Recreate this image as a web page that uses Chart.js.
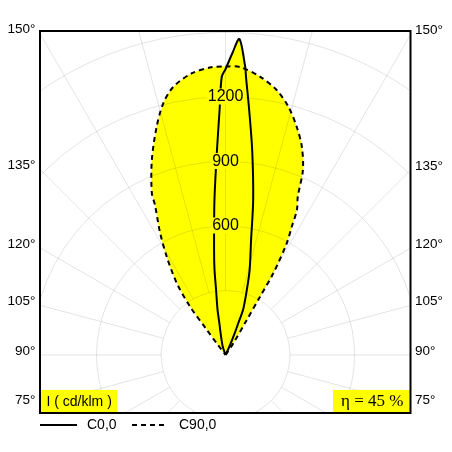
<!DOCTYPE html>
<html>
<head>
<meta charset="utf-8">
<script src="https://cdn.jsdelivr.net/npm/chart.js@4"></script>
<style>
  html, body { margin: 0; padding: 0; background: #fff; }
  #wrap { width: 452px; height: 452px; position: relative; }
</style>
</head>
<body>
<div id="wrap"><canvas id="chart"></canvas></div>
<script>
// Polar intensity data: gamma in degrees from nadir (0 = down, 180 = up), I in cd/klm
// right half = C0 / C90, left half = C180 / C270
const c0Gamma   = [150, 155.4, 157, 158.2, 158.8, 161.9, 164.2, 167.5, 169.9, 172.6, 174.5, 175.8, 176.1, 177.5, 178.7, 180];
const c0Values  = [0, 42, 101, 160, 225, 318, 411, 548, 732, 961, 1145, 1297, 1343, 1471, 1405, 1330];
const c180Gamma  = [155, 161.4, 167.2, 169, 169.9, 171.7, 172.6, 173.75, 175.9, 177.6, 178.6, 179.2, 180];
const c180Values = [0, 41, 105, 152, 213, 306, 399, 491, 723, 954, 1140, 1293, 1330];

const c90Gamma   = [144, 146.3, 148.8, 149.4, 149.7, 151.3, 152.7, 153.8, 155.5, 157.3, 159.9, 162.7, 165.8, 169.1, 172.9, 177.1, 180];
const c90Values  = [0, 65, 190, 315, 440, 592, 671, 751, 810, 932, 1032, 1112, 1191, 1255, 1304, 1341, 1342];
const c270Gamma  = [141, 142.5, 143.3, 143.7, 145.8, 149.1, 151.8, 154.8, 155.5, 159.3, 163.2, 166.1, 169, 173.2, 177.2, 180];
const c270Values = [0, 60, 150, 279, 403, 533, 644, 771, 827, 970, 1109, 1206, 1271, 1320, 1340, 1342];

const seriesNames = ['C0,0', 'C90,0'];
const ringValues = [300, 600, 900, 1200, 1500];
const ringLabels = [600, 900, 1200];
const spokeStep = 15;
const sideAngles = [150, 135, 120, 105, 90, 75];
const unitLabel = 'I ( cd/klm )';
const etaLabel = 'η = 45 %';

// visible window of the diagram, in cd/klm
const xMin = -863, xMax = 860, yMin = -270, yMax = 1507;

const rad = d => d * Math.PI / 180;

// right half going up, then left half coming back down -> closed shape
function polarShape(rg, rv, lg, lv) {
  const pts = [];
  rg.forEach((g, i) => pts.push({ x: rv[i] * Math.sin(rad(g)), y: -rv[i] * Math.cos(rad(g)) }));
  for (let i = lg.length - 2; i >= 0; i--) {
    pts.push({ x: -lv[i] * Math.sin(rad(lg[i])), y: -lv[i] * Math.cos(rad(lg[i])) });
  }
  return pts;
}

const SANS = '"Liberation Sans", Arial, sans-serif';
const YELLOW = '#ffff00';

const polarGrid = {
  id: 'polarGrid',
  beforeDatasetsDraw(chart) {
    const { ctx, chartArea: a, scales: { x, y } } = chart;
    const cx = x.getPixelForValue(0), cy = y.getPixelForValue(0);
    const px = v => x.getPixelForValue(v) - cx;
    ctx.save();
    ctx.beginPath();
    ctx.rect(a.left, a.top, a.right - a.left, a.bottom - a.top);
    ctx.clip();
    ctx.strokeStyle = 'rgba(0,0,0,0.11)';
    ctx.lineWidth = 1;
    ringValues.forEach(v => {
      ctx.beginPath();
      ctx.arc(cx, cy, px(v), 0, Math.PI * 2);
      ctx.stroke();
    });
    const r0 = px(ringValues[0]), r1 = px(4000);
    for (let g = 0; g < 360; g += spokeStep) {
      const dx = Math.sin(rad(g)), dy = Math.cos(rad(g));
      ctx.beginPath();
      ctx.moveTo(cx + dx * r0, cy + dy * r0);
      ctx.lineTo(cx + dx * r1, cy + dy * r1);
      ctx.stroke();
    }
    ctx.restore();
  },
  afterDatasetsDraw(chart) {
    const { ctx, chartArea: a, scales: { x, y } } = chart;
    const cx = x.getPixelForValue(0);
    ctx.save();

    // ring values with yellow backing
    ctx.font = '16px ' + SANS;
    ctx.textAlign = 'center';
    ctx.textBaseline = 'middle';
    ringLabels.forEach(v => {
      const py = y.getPixelForValue(v) - 0.5;
      const w = ctx.measureText(String(v)).width;
      ctx.fillStyle = YELLOW;
      ctx.fillRect(cx - w / 2 - 1, py - 8, w + 2, 16);
      ctx.fillStyle = '#000';
      ctx.fillText(String(v), cx, py + 0.5);
    });

    // unit and efficiency boxes
    ctx.fillStyle = YELLOW;
    ctx.fillRect(a.left, 390, 77, a.bottom - 390);
    ctx.fillRect(333, 390, a.right - 333, a.bottom - 390);
    ctx.fillStyle = '#000';
    ctx.textAlign = 'left';
    ctx.font = '14px ' + SANS;
    ctx.fillText(unitLabel, 46.5, 402);
    ctx.font = '17px "Liberation Serif", "Times New Roman", serif';
    ctx.fillText(etaLabel, 341, 402);

    // frame
    ctx.strokeStyle = '#000';
    ctx.lineWidth = 2;
    ctx.strokeRect(a.left, a.top, a.right - a.left, a.bottom - a.top);

    // angle labels where the spokes meet the frame
    ctx.font = '13.5px ' + SANS;
    sideAngles.forEach(g => {
      const cot = Math.cos(rad(g)) / Math.sin(rad(g));
      const yl = y.getPixelForValue(xMin * cot) - 4;
      const yr = y.getPixelForValue(-xMax * cot) - 4;
      ctx.textAlign = 'right';
      ctx.fillText(g + '°', 35.5, yl);
      ctx.textAlign = 'left';
      ctx.fillText(g + '°', 415, yr);
    });

    // legend
    const ly = 425;
    ctx.lineWidth = 2;
    ctx.beginPath(); ctx.moveTo(40, ly); ctx.lineTo(77, ly); ctx.stroke();
    ctx.setLineDash([5, 4]);
    ctx.beginPath(); ctx.moveTo(132, ly); ctx.lineTo(164, ly); ctx.stroke();
    ctx.setLineDash([]);
    ctx.font = '14px ' + SANS;
    ctx.textAlign = 'left';
    ctx.fillText(seriesNames[0], 87, ly + 0.5);
    ctx.fillText(seriesNames[1], 179, ly + 0.5);
    ctx.restore();
  }
};

new Chart(document.getElementById('chart'), {
  type: 'scatter',
  data: {
    datasets: [
      {
        label: seriesNames[0],
        data: polarShape(c0Gamma, c0Values, c180Gamma, c180Values),
        showLine: true,
        borderColor: '#000',
        borderWidth: 2,
        backgroundColor: YELLOW,
        fill: 'shape',
        tension: 0.3,
        pointRadius: 0
      },
      {
        label: seriesNames[1],
        data: polarShape(c90Gamma, c90Values, c270Gamma, c270Values),
        showLine: true,
        borderColor: '#000',
        borderWidth: 2,
        borderDash: [5, 4],
        backgroundColor: YELLOW,
        fill: 'shape',
        tension: 0.3,
        pointRadius: 0
      }
    ]
  },
  options: {
    responsive: true,
    maintainAspectRatio: false,
    animation: false,
    layout: { padding: { left: 40, right: 41.5, top: 31, bottom: 39 } },
    scales: {
      x: { type: 'linear', min: xMin, max: xMax, display: false },
      y: { type: 'linear', min: yMin, max: yMax, display: false }
    },
    plugins: {
      legend: { display: false },
      tooltip: { enabled: false },
      filler: { drawTime: 'beforeDatasetsDraw' }
    }
  },
  plugins: [polarGrid]
});
</script>
</body>
</html>
